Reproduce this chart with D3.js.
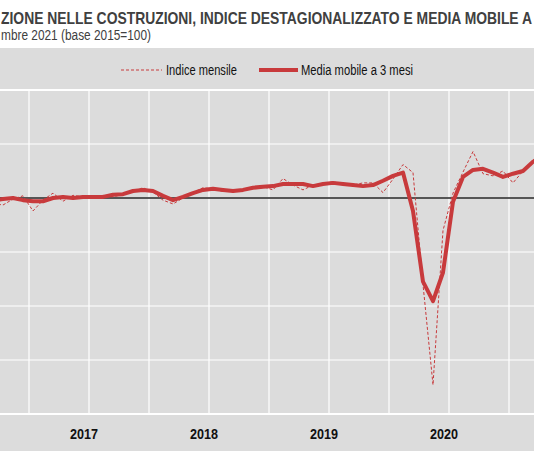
<!DOCTYPE html>
<html><head><meta charset="utf-8">
<script src="https://cdn.jsdelivr.net/npm/d3@7"></script>
<style>body{margin:0;background:#fff}</style></head>
<body><svg id="c" width="534" height="462"></svg>
<script>
// month index: 0 = Jan 2017; first value is month -5 (Aug 2016)
const startMonth = -5;
const monthly = [99,98.7,99.8,100.4,97.6,99.6,100.9,99.4,100.5,100.2,100,100.5,100.2,100.7,101.2,101.9,101.1,99.6,98.9,100,101,101.9,101.7,101.2,101.3,101.6,101.8,102.1,101.5,103.6,102.4,101.5,102.4,102.7,103,102.6,102.4,102.8,102.8,101,103.5,106.2,104.7,84,65.4,94,100.9,104.8,108.6,104.5,104.1,105,102.8,105,107,109];
const movingAvg = [99.6,99.8,100,99.6,99.4,99.4,100,100.2,100,100.2,100.2,100.2,100.6,100.7,101.3,101.5,101.3,100.4,99.6,100.2,100.9,101.5,101.7,101.5,101.3,101.5,101.9,102.1,102.2,102.6,102.6,102.6,102.2,102.6,102.8,102.6,102.4,102.2,102.4,103.2,104.1,104.7,97.6,84.5,80.9,86.2,99.3,103.9,105.2,105.4,104.7,103.9,104.5,105,106.7,108];
const yearLabels = ["2017","2018","2019","2020"];
const yTicks = [60,70,80,90,100,110,120];
const legendLabels = ["Indice mensile","Media mobile a 3 mesi"];

const svg = d3.select("#c");
const red = "#c83a3c";
const x = d3.scaleLinear().domain([0,1]).range([43,53]);
const y = d3.scaleLinear().domain([60,120]).range([414,90]);
const font = "'Liberation Sans Narrow','Liberation Sans',Arial,sans-serif";

svg.append("text").attr("x",1).attr("y",24).attr("font-family",font).attr("font-weight","bold")
  .attr("font-size",17).attr("fill","#404040").attr("textLength",531).attr("lengthAdjust","spacingAndGlyphs")
  .text("ZIONE NELLE COSTRUZIONI, INDICE DESTAGIONALIZZATO E MEDIA MOBILE A");
svg.append("text").attr("x",1).attr("y",40).attr("font-family",font)
  .attr("font-size",14).attr("fill","#404040").attr("textLength",150).attr("lengthAdjust","spacingAndGlyphs")
  .text("mbre 2021 (base 2015=100)");

svg.append("rect").attr("x",0).attr("y",48).attr("width",534).attr("height",403).attr("fill","#dcdcdc");

// grid
const g = svg.append("g");
const halfYears = d3.range(-2,56,6);
g.selectAll(".vg").data(halfYears).join("line")
  .attr("x1",d=>x(d)+6).attr("x2",d=>x(d)+6).attr("y1",90).attr("y2",414)
  .attr("stroke","#fff").attr("stroke-width",1.2);
g.selectAll(".hg").data(yTicks).join("line")
  .attr("x1",0).attr("x2",534).attr("y1",d=>y(d)).attr("y2",d=>y(d))
  .attr("stroke","#fff").attr("stroke-width",d=>(d==60||d==120)?2:1.2);
g.append("line").attr("x1",0).attr("x2",534).attr("y1",y(100)).attr("y2",y(100))
  .attr("stroke","#222").attr("stroke-width",1.3);

const line = d3.line().x((d,i)=>x(startMonth+i)).y(d=>y(d));
svg.append("clipPath").attr("id","cl").append("rect").attr("x",0).attr("y",90).attr("width",534).attr("height",324);
svg.append("path").datum(monthly).attr("d",line).attr("fill","none").attr("stroke",red)
  .attr("stroke-width",1).attr("stroke-dasharray","3,2").attr("clip-path","url(#cl)");
svg.append("path").datum(movingAvg).attr("d",line).attr("fill","none").attr("stroke",red)
  .attr("stroke-width",4).attr("stroke-linejoin","round").attr("clip-path","url(#cl)");

// year labels
svg.selectAll(".yl").data(yearLabels).join("text")
  .attr("x",(d,i)=>x(i*12)+41).attr("y",439).attr("text-anchor","middle")
  .attr("font-family",font).attr("font-weight","bold").attr("font-size",14).attr("fill","#111")
  .attr("textLength",28).attr("lengthAdjust","spacingAndGlyphs").text(d=>d);

// legend
svg.append("line").attr("x1",121).attr("x2",162).attr("y1",70).attr("y2",70).attr("stroke",red).attr("stroke-width",1).attr("stroke-dasharray","3,2");
svg.append("text").attr("x",166).attr("y",75).attr("font-family",font).attr("font-size",14).attr("fill","#111")
  .attr("textLength",71).attr("lengthAdjust","spacingAndGlyphs").text(legendLabels[0]);
svg.append("line").attr("x1",259).attr("x2",298).attr("y1",70).attr("y2",70).attr("stroke",red).attr("stroke-width",4);
svg.append("text").attr("x",301).attr("y",75).attr("font-family",font).attr("font-size",14).attr("fill","#111")
  .attr("textLength",112).attr("lengthAdjust","spacingAndGlyphs").text(legendLabels[1]);
</script></body></html>
